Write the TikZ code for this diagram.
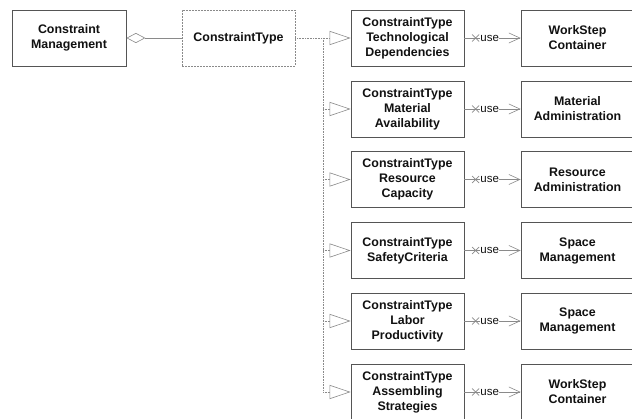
\documentclass[tikz,border=0pt]{standalone}
\usepackage{fontspec}
\setmainfont{Liberation Sans}
\usetikzlibrary{arrows.meta}
\definecolor{boxline}{HTML}{555555}
\definecolor{conline}{HTML}{8A8A8A}
\definecolor{txt}{HTML}{111111}
\tikzset{
  cls/.style={draw=boxline, line width=0.8pt, fill=white, minimum width=113pt, minimum height=56pt,
    align=center, inner sep=0pt, text=txt, font=\fontsize{12.4}{15}\selectfont\bfseries},
  dcls/.style={cls, draw=conline, dash pattern=on 2pt off 1pt},
  conn/.style={draw=conline, line width=0.6pt},
  bus/.style={draw=conline, line width=0.6pt, dash pattern=on 0.8pt off 0.8pt},
  gen/.style={bus, -{Triangle[open, length=21pt, width=14pt, fill=white]}},
  usearrow/.style={conn, -{Straight Barb[length=11pt, width=10pt]}},
  uselabel/.style={fill=white, inner sep=0pt, text=txt, font=\fontsize{11.5}{13}\selectfont},
}
\begin{document}
\begin{tikzpicture}[x=1pt, y=-1pt]
\useasboundingbox (0,0) rectangle (632,419);
\clip (0,0) rectangle (632,419);
\fill[white] (0,0) rectangle (632,419);

\node[cls, minimum width=114pt] (cm) at (69,38) {Constraint\\Management};
\node[dcls] (ct) at (238.5,38) {ConstraintType};

\node[cls] (c1) at (407.5,38) {ConstraintType\\Technological\\Dependencies};
\node[cls] (c2) at (407.5,109) {ConstraintType\\Material\\Availability};
\node[cls] (c3) at (407.5,179.5) {ConstraintType\\Resource\\Capacity};
\node[cls] (c4) at (407.5,250.5) {ConstraintType\\SafetyCriteria};
\node[cls] (c5) at (407.5,321) {ConstraintType\\Labor\\Productivity};
\node[cls] (c6) at (407.5,392) {ConstraintType\\Assembling\\Strategies};

\node[cls] (r1) at (577.5,38) {WorkStep\\Container};
\node[cls] (r2) at (577.5,109) {Material\\Administration};
\node[cls] (r3) at (577.5,179.5) {Resource\\Administration};
\node[cls] (r4) at (577.5,250.5) {Space\\Management};
\node[cls] (r5) at (577.5,321) {Space\\Management};
\node[cls] (r6) at (577.5,392) {WorkStep\\Container};

% aggregation
\draw[conn, -{Diamond[open, length=19pt, width=10pt, fill=white]}] (ct.west) -- (cm.east);

% generalization bus
\coordinate (bt) at (323,38);
\coordinate (bb) at (323,392);
\draw[bus] (bt) -- (bb);
\draw[gen] (ct.east) -- (c1.west);
\foreach \i in {2,...,6} {
  \draw[gen] (bt|-c\i.west) -- (c\i.west);
}

% use dependencies
\foreach \i in {1,...,6} {
  \draw[usearrow] (c\i.east) -- (r\i.west)
    coordinate[pos=0.2] (x\i)
    node[pos=0.45, uselabel] {use};
  \draw[conn] ([shift={(-3.5,-3.5)}]x\i) -- ([shift={(3.5,3.5)}]x\i)
              ([shift={(-3.5,3.5)}]x\i) -- ([shift={(3.5,-3.5)}]x\i);
}
\end{tikzpicture}
\end{document}
